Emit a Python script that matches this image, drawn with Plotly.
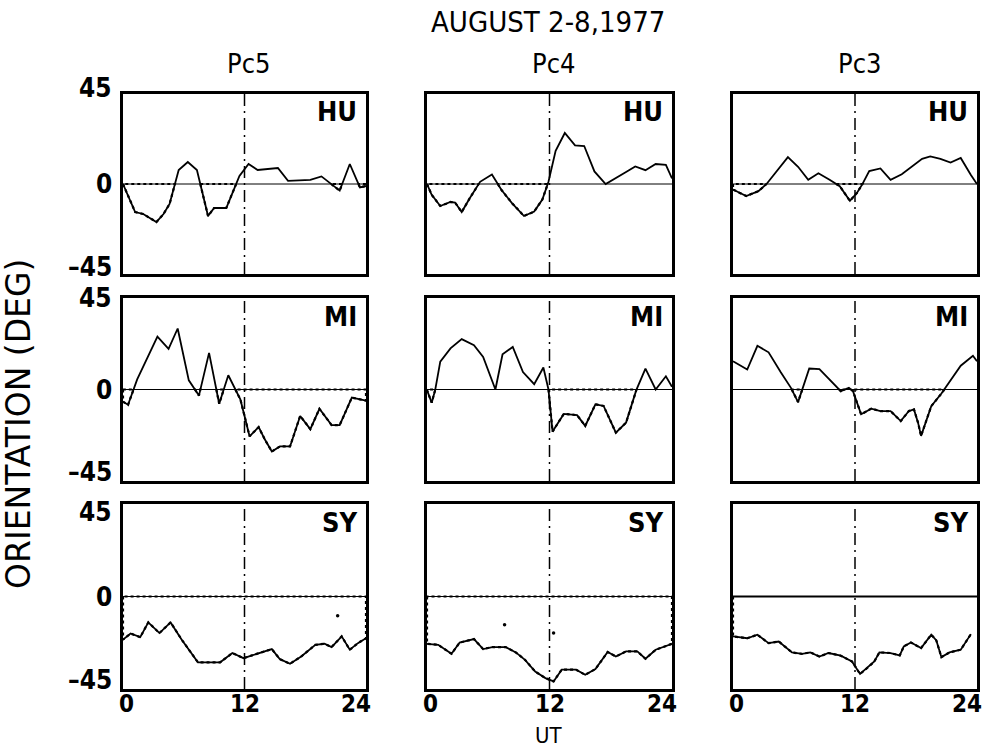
import plotly.graph_objects as go

# ---------------- data (UT hours, orientation degrees) ----------------
bands = ["Pc5", "Pc4", "Pc3"]
stations = ["HU", "MI", "SY"]

pc5_hu_t = [0, 1.2, 2, 3.3, 4, 4.6, 5.5, 6.4, 7.3, 8.4, 9, 10.2, 11.5, 12.4, 13.3, 14.3, 15.3, 16.3, 17.5, 18.5, 19.6, 21.4, 22.4, 23.4, 24]
pc5_hu_deg = [0, -14, -15, -19, -15, -10, 7, 11, 7, -16, -12, -12, 4, 10, 7, 7.5, 8, 1.6, 1.8, 2.1, 3.8, -3.3, 10, -1.7, -1]

pc4_hu_t = [0, 0.46, 1.3, 2.3, 2.75, 3.4, 4.2, 5.2, 6.36, 7.3, 8.3, 9.5, 10.5, 11.3, 11.9, 12.6, 13.5, 14.5, 15.4, 16.4, 17.5, 18.5, 19.5, 20.4, 21.4, 22.4, 23.4, 24]
pc4_hu_deg = [0, -5.4, -11, -9, -9.3, -14, -7, 1.1, 4.7, -3, -9.4, -16, -13.8, -7.8, 1.1, 16.6, 25.5, 19.3, 19, 6.3, 0, 2.8, 6, 8.8, 6.9, 10, 9.6, 2.8]

pc3_hu_t = [0, 1.3, 2.5, 3.3, 5.4, 6.4, 7.4, 8.4, 9.5, 10.5, 11.5, 12.2, 12.7, 13.4, 14.5, 15.5, 16.6, 17.4, 18.6, 19.4, 20.4, 21.4, 22.4, 23.4, 24]
pc3_hu_deg = [-2.8, -6, -3.6, 0, 13.4, 8.6, 2.1, 5.4, 2.1, -1.1, -8.4, -4.4, -0.3, 6.5, 7.8, 2.1, 4.9, 7.8, 12.6, 13.8, 12.6, 10.7, 13, 4.5, 0]

pc5_mi_t = [0, 0.5, 1.4, 3.4, 4.5, 5.4, 6.5, 7.5, 8.5, 9.5, 10.4, 11.6, 12.5, 13.4, 14.0, 14.7, 15.5, 16.5, 17.5, 18.5, 19.4, 20.6, 21.4, 22.6, 24]
pc5_mi_deg = [-6, -7.5, 5, 26, 20, 30, 4.5, -3, 18, -7, 7, -5, -23, -18.5, -24.5, -30.5, -28, -28, -13, -19.5, -9.5, -17.5, -17.5, -4, -5.5]

pc4_mi_t = [0, 0.46, 0.8, 1.3, 2.3, 3.4, 4.6, 5.5, 6.7, 7.4, 8.4, 9.4, 10.5, 11.4, 11.9, 12.3, 13.4, 14.7, 15.5, 16.5, 17.3, 18.5, 19.5, 20.5, 21.4, 22.4, 23.4, 24]
pc4_mi_deg = [-0.3, -6.5, -0.3, 13.7, 20.2, 24.8, 21.8, 16, 0, 17.3, 20.9, 8.6, 2.6, 10.8, 0, -20.7, -12, -12.6, -17.9, -7.3, -8.1, -21.2, -16.3, -0.3, 10.3, 0, 6.5, 1.3]

pc3_mi_t = [0, 1.4, 2.4, 3.5, 4.7, 5.7, 6.4, 7.5, 8.5, 9.4, 10.6, 11.4, 11.8, 12.6, 13.6, 14.5, 15.5, 16.5, 17.3, 17.8, 18.2, 18.5, 19.5, 20.5, 21.5, 22.4, 23.6, 24]
pc3_mi_deg = [13.9, 9.8, 21.5, 18.3, 8.5, 0.8, -6.2, 10.3, 10, 5.2, -0.8, 0.8, -0.8, -12.2, -9.4, -10.6, -10.6, -15.5, -10.6, -9.8, -16.3, -22.8, -8.2, -2, 4.9, 11.7, 16.6, 13.9]

pc5_sy_t = [0, 0.75, 1.7, 2.5, 3.6, 4.7, 5.8, 7.4, 9.6, 10.8, 11.9, 13.2, 14.7, 15.5, 16.5, 17.6, 19.0, 19.9, 20.6, 21.6, 22.4, 23.2, 24]
pc5_sy_deg = [-21, -18, -19.8, -12.6, -17.8, -12.6, -21, -32, -32, -27.5, -30, -27.9, -25.6, -30.5, -32.7, -29.2, -23.5, -23, -24.6, -19.4, -25.9, -22.7, -20.3]

pc4_sy_t = [0, 1.1, 2.4, 3.2, 4.6, 5.5, 6.4, 7.7, 8.7, 9.6, 10.6, 11.6, 12.4, 13.2, 14.6, 15.5, 16.5, 17.7, 18.5, 19.5, 20.6, 21.4, 22.4, 24]
pc4_sy_deg = [-23, -23.5, -27.9, -22.4, -20.7, -25.6, -24.6, -24.6, -27.2, -30.8, -36.5, -39.7, -41.3, -35.6, -35.6, -38.1, -35.3, -27, -29.2, -26.7, -26.7, -30.3, -25.9, -23]

pc3_sy_t = [0, 1.4, 2.4, 3.5, 4.5, 5.8, 6.8, 7.6, 8.5, 9.4, 10.6, 11.7, 12.5, 13.2, 13.9, 14.4, 15.5, 16.4, 16.8, 17.5, 18.5, 19.5, 20, 20.5, 21.3, 22.4, 23.4]
pc3_sy_deg = [-19.4, -20.3, -18.6, -22.7, -21.9, -27.2, -27.9, -27.2, -29.2, -27.5, -28.8, -31.6, -37.7, -34.8, -31.6, -27.2, -27.5, -28.7, -24.3, -22.4, -25.1, -18.6, -21.4, -29.5, -27.2, -25.9, -18.3]

# isolated points
pc5_sy_stray_t = [21.2]
pc5_sy_stray_deg = [-9.4]
pc4_sy_stray_t = [7.6, 12.4]
pc4_sy_stray_deg = [-13.8, -17.8]

series = {
    (0, 0): (pc5_hu_t, pc5_hu_deg), (0, 1): (pc4_hu_t, pc4_hu_deg), (0, 2): (pc3_hu_t, pc3_hu_deg),
    (1, 0): (pc5_mi_t, pc5_mi_deg), (1, 1): (pc4_mi_t, pc4_mi_deg), (1, 2): (pc3_mi_t, pc3_mi_deg),
    (2, 0): (pc5_sy_t, pc5_sy_deg), (2, 1): (pc4_sy_t, pc4_sy_deg), (2, 2): (pc3_sy_t, pc3_sy_deg),
}
strays = {(2, 0): (pc5_sy_stray_t, pc5_sy_stray_deg), (2, 1): (pc4_sy_stray_t, pc4_sy_stray_deg)}

x_ticks = [0, 12, 24]
y_ticks = [45, 0, -45]

# ---------------- layout geometry ----------------
W, H = 984, 749
col_px = [(123, 366), (427, 672), (733, 977)]
row_px = [(94, 274), (298, 481), (504, 689)]
ylab_shift = [(6, 0, 7), (0, 0, 9), (-8, 0, 9)]
FONT = "DejaVu Sans Condensed"


def neg_outline(t, v):
    """Outline of the regions where the curve lies below zero."""
    segs, cur = [], None
    for k in range(len(t)):
        if v[k] < 0:
            if cur is None:
                if k == 0:
                    cur = [(t[0], 0.0)]
                else:
                    x0 = t[k - 1] + (0 - v[k - 1]) * (t[k] - t[k - 1]) / (v[k] - v[k - 1])
                    cur = [(x0, 0.0)]
            cur.append((t[k], v[k]))
        elif cur is not None:
            x1 = t[k - 1] + (0 - v[k - 1]) * (t[k] - t[k - 1]) / (v[k] - v[k - 1])
            cur.append((x1, 0.0))
            cur.append(cur[0])
            segs.append(cur)
            cur = None
    if cur is not None:
        if t[-1] >= 24:
            cur.append((t[-1], 0.0))
            cur.append(cur[0])
        segs.append(cur)
    xs, ys = [], []
    for s in segs:
        xs += [p[0] for p in s] + [None]
        ys += [p[1] for p in s] + [None]
    return xs, ys


fig = go.Figure()
shapes, annotations = [], []

for r in range(3):
    for c in range(3):
        i = r * 3 + c + 1
        sfx = "" if i == 1 else str(i)
        xa, ya = "x" + sfx, "y" + sfx
        x0p, x1p = col_px[c]
        y0p, y1p = row_px[r]
        fig.layout["xaxis" + sfx] = dict(
            domain=[x0p / W, x1p / W], range=[0, 24], anchor=ya,
            showline=True, mirror=True, linewidth=2.5, linecolor="black",
            showgrid=False, zeroline=False, showticklabels=False, ticks="",
        )
        fig.layout["yaxis" + sfx] = dict(
            domain=[1 - y1p / H, 1 - y0p / H], range=[-45, 45], anchor=xa,
            showline=True, mirror=True, linewidth=2.5, linecolor="black",
            showgrid=False, zeroline=False, showticklabels=False, ticks="",
        )
        t, v = series[(r, c)]
        nx, ny = neg_outline(t, v)
        fig.add_trace(go.Scatter(x=nx, y=ny, xaxis=xa, yaxis=ya, mode="lines",
                                 line=dict(color="black", width=2.2, dash="dot"),
                                 hoverinfo="skip", showlegend=False))
        fig.add_trace(go.Scatter(x=t, y=v, xaxis=xa, yaxis=ya, mode="lines",
                                 line=dict(color="black", width=1.8),
                                 showlegend=False))
        if (r, c) in strays:
            st, sv = strays[(r, c)]
            fig.add_trace(go.Scatter(x=st, y=sv, xaxis=xa, yaxis=ya, mode="markers",
                                     marker=dict(color="black", size=3.5),
                                     showlegend=False))
        zero_w = 2 if t[-1] < 24 else 1
        shapes.append(dict(type="line", xref=xa + " domain", yref=ya, x0=0, x1=1, y0=0, y1=0,
                           line=dict(color="black", width=zero_w)))
        shapes.append(dict(type="line", xref=xa, yref=ya + " domain", x0=12, x1=12, y0=0, y1=1,
                           line=dict(color="black", width=1.5, dash="12px,5px,2px,5px")))
        annotations.append(dict(text=stations[r], xref=xa, yref=ya, x=23.3, y=36,
                                xanchor="right", yanchor="middle", showarrow=False,
                                font=dict(family=FONT, size=27, color="black", weight="bold")))
        if c == 0:
            for yv, shift in zip(y_ticks, ylab_shift[r]):
                annotations.append(dict(text=str(yv).replace("-", "\u2013"), xref="paper", yref=ya,
                                        x=114 / W, y=yv, yshift=shift, xanchor="right",
                                        yanchor="middle", showarrow=False,
                                        font=dict(family=FONT, size=26, color="black", weight="bold")))
        if r == 2:
            for xv, dx in zip(x_ticks, [3, 0, -10]):
                annotations.append(dict(text=str(xv), xref=xa, yref="paper", x=xv, xshift=dx,
                                        y=1 - 704 / H, xanchor="center", yanchor="middle",
                                        showarrow=False, borderpad=0,
                                        font=dict(family=FONT, size=24, color="black", weight="bold")))

for c, b in enumerate(bands):
    cx = (col_px[c][0] + col_px[c][1]) / 2 / W
    annotations.append(dict(text=b, xref="paper", yref="paper", x=cx + 4 / W, y=1 - 63 / H,
                            xanchor="center", yanchor="middle", showarrow=False,
                            font=dict(family=FONT, size=27, color="black")))

annotations.append(dict(text="AUGUST 2-8,1977", xref="paper", yref="paper", x=548 / W, y=1 - 22 / H,
                        xanchor="center", yanchor="middle", showarrow=False,
                        font=dict(family=FONT, size=29, color="black")))
annotations.append(dict(text="UT", xref="paper", yref="paper", x=548 / W, y=1 - 735 / H,
                        xanchor="center", yanchor="middle", showarrow=False, borderpad=0,
                        font=dict(family=FONT, size=22, color="black")))
annotations.append(dict(text="ORIENTATION (DEG)", xref="paper", yref="paper", x=18 / W, y=1 - 424 / H,
                        xanchor="center", yanchor="middle", textangle=-90, showarrow=False,
                        font=dict(family="DejaVu Sans", size=33, color="black")))

fig.update_layout(width=W, height=H, margin=dict(l=0, r=0, t=0, b=0),
                  paper_bgcolor="white", plot_bgcolor="white",
                  shapes=shapes, annotations=annotations, showlegend=False)

fig.write_html("out.html")
